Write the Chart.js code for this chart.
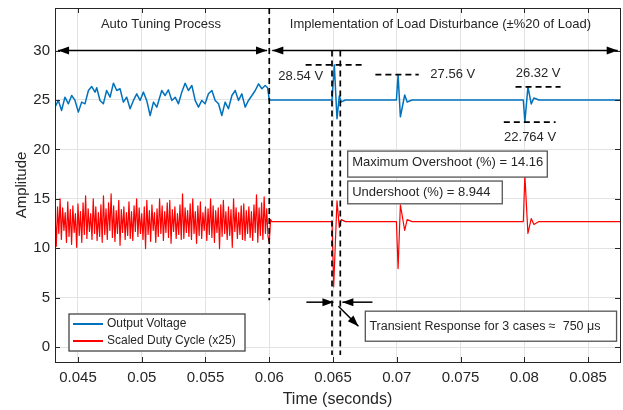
<!DOCTYPE html>
<html>
<head>
<meta charset="utf-8">
<script src="https://cdn.jsdelivr.net/npm/chart.js@4.4.1/dist/chart.umd.min.js"></script>
<style>
  html, body { margin: 0; padding: 0; background: #fff; }
</style>
</head>
<body>
<canvas id="chart" width="623" height="410"></canvas>
<script>
// Output voltage during auto tuning [time (s), volts]
const voltageAutoTuning = [
  [0.04320,24.27],[0.04346,24.95],[0.04372,23.94],[0.04398,25.28],[0.04425,24.61],[0.04451,25.45],[0.04477,24.95],[0.04503,23.77],[0.04529,24.78],[0.04555,24.61],
  [0.04582,25.96],[0.04608,26.36],[0.04634,25.79],[0.04647,26.23],[0.04673,24.95],[0.04699,24.61],[0.04725,25.96],[0.04752,25.28],[0.04778,26.70],[0.04804,25.96],
  [0.04830,26.13],[0.04856,24.78],[0.04882,25.28],[0.04909,24.11],[0.04935,24.95],[0.04961,25.62],[0.04987,24.95],[0.05013,25.79],[0.05039,24.95],[0.05066,23.43],
  [0.05092,24.78],[0.05118,24.27],[0.05157,25.96],[0.05183,25.45],[0.05209,26.02],[0.05236,24.95],[0.05262,25.28],[0.05288,24.61],[0.05314,25.79],[0.05340,26.70],
  [0.05366,25.96],[0.05393,26.46],[0.05419,24.95],[0.05445,24.27],[0.05471,24.95],[0.05497,24.61],[0.05523,25.62],[0.05550,25.96],[0.05576,24.95],[0.05602,24.61],
  [0.05628,23.43],[0.05654,24.78],[0.05680,24.11],[0.05707,25.45],[0.05733,25.96],[0.05759,24.95],[0.05785,25.62],[0.05811,24.27],[0.05837,24.95],[0.05864,25.45],
  [0.05890,25.96],[0.05916,26.63],[0.05942,26.13],[0.05968,26.46],[0.05987,26.23]
];

// Output voltage with load disturbances
const voltageLoadSteps = [
  [0.06000,25.0],[0.06492,25.0],[0.06510,28.54],[0.06531,23.1],[0.06549,25.4],[0.06565,24.8],[0.06597,25.0],
  [0.06997,25.0],[0.07010,27.56],[0.07028,23.3],[0.07062,25.5],[0.07081,24.8],[0.07120,25.0],
  [0.07992,25.0],[0.08004,22.764],[0.08028,26.32],[0.08054,24.6],[0.08075,25.2],[0.08114,25.0],[0.0876,25.0]
];

// Scaled duty cycle (x25) during auto tuning
const dutyAutoTuning = [
  [0.0432,13.8],[0.0433,10.2],[0.0434,14.2],[0.0435,11.5],[0.0436,15.0],[0.0437,10.9],[0.0438,14.1],[0.0439,11.8],[0.0440,13.6],[0.0441,10.6],
  [0.0442,14.7],[0.0443,11.2],[0.0444,13.9],[0.0445,10.4],[0.0446,14.3],[0.0447,11.6],[0.0448,13.5],[0.0449,10.1],[0.0450,14.5],[0.0451,11.3],
  [0.0452,13.7],[0.0453,10.6],[0.0454,14.6],[0.0455,11.4],[0.0456,15.3],[0.0457,11.0],[0.0458,14.0],[0.0459,11.7],[0.0460,13.5],[0.0461,10.9],
  [0.0462,15.0],[0.0463,11.5],[0.0464,14.2],[0.0465,10.8],[0.0466,13.6],[0.0467,11.2],[0.0468,14.4],[0.0469,10.6],[0.0470,15.3],[0.0471,11.4],
  [0.0472,14.0],[0.0473,10.9],[0.0474,14.6],[0.0475,11.8],[0.0476,15.5],[0.0477,11.1],[0.0478,14.3],[0.0479,10.7],[0.0480,13.8],[0.0481,11.5],
  [0.0482,14.85],[0.0483,10.3],[0.0484,13.9],[0.0485,11.6],[0.0486,14.2],[0.0487,10.9],[0.0488,13.6],[0.0489,11.3],[0.0490,14.7],[0.0491,11.0],
  [0.0492,13.7],[0.0493,10.8],[0.0494,14.3],[0.0495,11.7],[0.0496,15.0],[0.0497,11.2],[0.0498,14.1],[0.0499,11.5],[0.0500,13.5],[0.0501,10.9],
  [0.0502,14.2],[0.0503,9.97],[0.0504,14.85],[0.0505,11.4],[0.0506,13.8],[0.0507,10.7],[0.0508,14.4],[0.0509,11.8],[0.0510,13.6],[0.0511,10.6],
  [0.0512,14.0],[0.0513,11.2],[0.0514,15.0],[0.0515,11.5],[0.0516,14.3],[0.0517,10.8],[0.0518,13.7],[0.0519,11.6],[0.0520,14.6],[0.0521,11.1],
  [0.0522,14.85],[0.0523,10.5],[0.0524,13.9],[0.0525,11.7],[0.0526,14.2],[0.0527,11.0],[0.0528,13.5],[0.0529,11.4],[0.0530,14.4],[0.0531,10.9],
  [0.0532,15.5],[0.0533,11.0],[0.0534,14.1],[0.0535,11.6],[0.0536,13.8],[0.0537,11.2],[0.0538,14.5],[0.0539,10.9],[0.0540,15.0],[0.0541,11.5],
  [0.0542,13.7],[0.0543,10.5],[0.0544,14.3],[0.0545,11.3],[0.0546,14.7],[0.0547,11.0],[0.0548,13.6],[0.0549,11.8],[0.0550,14.2],[0.0551,10.8],
  [0.0552,14.0],[0.0553,11.4],[0.0554,15.0],[0.0555,11.1],[0.0556,14.3],[0.0557,10.6],[0.0558,13.8],[0.0559,11.6],[0.0560,14.1],[0.0561,9.97],
  [0.0562,14.4],[0.0563,11.2],[0.0564,14.85],[0.0565,11.5],[0.0566,13.7],[0.0567,10.9],[0.0568,14.2],[0.0569,11.3],[0.0570,13.9],[0.0571,10.1],
  [0.0572,15.0],[0.0573,11.7],[0.0574,14.1],[0.0575,11.0],[0.0576,13.6],[0.0577,11.4],[0.0578,14.3],[0.0579,10.9],[0.0580,14.5],[0.0581,10.8],
  [0.0582,13.8],[0.0583,11.5],[0.0584,14.2],[0.0585,11.1],[0.0586,13.7],[0.0587,10.8],[0.0588,14.4],[0.0589,11.6],[0.0590,15.4],[0.0591,10.6],
  [0.0592,14.1],[0.0593,11.3],[0.0594,14.6],[0.0595,10.9],[0.0596,15.2],[0.0597,11.5],[0.0598,14.0],[0.0599,11.2]
];

// Scaled duty cycle with load disturbances
const dutyLoadSteps = [
  [0.0600,10.6],[0.0601,12.9],[0.0602,12.7],
  [0.06492,12.7],[0.06505,6.1],[0.06531,14.8],[0.06549,12.1],[0.06565,12.9],[0.06597,12.7],
  [0.06997,12.7],[0.07010,7.95],[0.07028,14.4],[0.07062,11.8],[0.07081,12.9],[0.07120,12.7],
  [0.07992,12.7],[0.08004,17.4],[0.08028,11.5],[0.08054,13.0],[0.08075,12.4],[0.08114,12.7],[0.0876,12.7]
];

const seriesNames = ['Output Voltage', 'Scaled Duty Cycle (x25)'];
const seriesColors = ['#0072BD', '#FF0000'];
const xRange = [0.0432, 0.0875];
const yRange = [-1.5, 34.3];

const FONT = '"Liberation Sans", Arial, sans-serif';
const INK = '#262626';

const toPoints = arr => arr.map(p => ({ x: p[0], y: p[1] }));

// arrowhead at (x2,y2) pointing away from (x1,y1)
function arrowHead(ctx, x1, y1, x2, y2) {
    const a = Math.atan2(y2 - y1, x2 - x1);
    const len = 11, half = 4;
    ctx.beginPath();
    ctx.moveTo(x2, y2);
    ctx.lineTo(x2 - len * Math.cos(a) + half * Math.sin(a), y2 - len * Math.sin(a) - half * Math.cos(a));
    ctx.lineTo(x2 - len * Math.cos(a) - half * Math.sin(a), y2 - len * Math.sin(a) + half * Math.cos(a));
    ctx.closePath();
    ctx.fill();
}

function arrow(ctx, x1, y1, x2, y2, both) {
    ctx.beginPath();
    ctx.moveTo(x1, y1);
    ctx.lineTo(x2, y2);
    ctx.stroke();
    arrowHead(ctx, x1, y1, x2, y2);
    if (both) arrowHead(ctx, x2, y2, x1, y1);
}

function dashed(ctx, x1, y1, x2, y2) {
    ctx.save();
    ctx.setLineDash([6, 4]);
    ctx.lineWidth = 1.7;
    ctx.strokeStyle = '#000';
    ctx.beginPath();
    ctx.moveTo(x1, y1);
    ctx.lineTo(x2, y2);
    ctx.stroke();
    ctx.restore();
}

function textBox(ctx, x1, y1, x2, y2, text, tx, ty) {
    ctx.fillStyle = '#fff';
    ctx.fillRect(x1, y1, x2 - x1, y2 - y1);
    ctx.strokeStyle = '#555';
    ctx.lineWidth = 1.3;
    ctx.strokeRect(x1, y1, x2 - x1, y2 - y1);
    ctx.fillStyle = INK;
    ctx.textAlign = 'left';
    ctx.textBaseline = 'middle';
    ctx.fillText(text, tx, ty);
}

const annotationPlugin = {
    id: 'annotations',
    afterDatasetsDraw(chart) {
        const ctx = chart.ctx;
        const xs = chart.scales.x, ys = chart.scales.y;
        const X = v => xs.getPixelForValue(v);
        const Y = v => ys.getPixelForValue(v);
        const a = chart.chartArea;
        ctx.save();

        // inward tick marks and frame
        ctx.strokeStyle = INK;
        ctx.lineWidth = 1;
        ctx.beginPath();
        xs.ticks.forEach(t => {
            const px = Math.round(X(t.value)) + 0.5;
            ctx.moveTo(px, a.bottom); ctx.lineTo(px, a.bottom - 5);
            ctx.moveTo(px, a.top); ctx.lineTo(px, a.top + 5);
        });
        ys.ticks.forEach(t => {
            const py = Math.round(Y(t.value)) + 0.5;
            ctx.moveTo(a.left, py); ctx.lineTo(a.left + 5, py);
            ctx.moveTo(a.right, py); ctx.lineTo(a.right - 5, py);
        });
        ctx.stroke();
        ctx.strokeRect(Math.round(a.left) + 0.5, Math.round(a.top) + 0.5, Math.round(a.right - a.left), Math.round(a.bottom - a.top));

        // section titles
        ctx.font = '13px ' + FONT;
        ctx.fillStyle = INK;
        ctx.textAlign = 'center';
        ctx.textBaseline = 'middle';
        ctx.fillText('Auto Tuning Process', X(0.05151), Y(32.6));
        ctx.fillText('Implementation of Load Disturbance (\u00B1%20 of Load)', X(0.07342), Y(32.6));

        // section arrows
        ctx.strokeStyle = '#000';
        ctx.fillStyle = '#000';
        ctx.lineWidth = 1.5;
        arrow(ctx, X(0.04344), Y(30), X(0.05982), Y(30), true);
        arrow(ctx, X(0.06024), Y(30), X(0.08732), Y(30), true);

        // vertical dashed markers
        dashed(ctx, X(0.06), Y(34.3), X(0.06), Y(4.75));
        dashed(ctx, X(0.06492), Y(30), X(0.06492), Y(-0.8));
        dashed(ctx, X(0.06557), Y(30), X(0.06557), Y(-0.8));

        // peak level markers
        dashed(ctx, X(0.06285), Y(28.54), X(0.06733), Y(28.54));
        dashed(ctx, X(0.06832), Y(27.56), X(0.07172), Y(27.56));
        dashed(ctx, X(0.07931), Y(26.32), X(0.08284), Y(26.32));
        dashed(ctx, X(0.07839), Y(22.764), X(0.08245), Y(22.764));

        ctx.font = '13px ' + FONT;
        ctx.fillStyle = INK;
        ctx.textAlign = 'left';
        ctx.textBaseline = 'middle';
        ctx.fillText('28.54 V', X(0.06071), Y(27.37));
        ctx.fillText('27.56 V', X(0.07263), Y(27.55));
        ctx.fillText('26.32 V', X(0.07932), Y(27.7));
        ctx.fillText('22.764 V', X(0.07841), Y(21.2));

        // result boxes
        textBox(ctx, X(0.06615), Y(19.83), X(0.08180), Y(17.2), 'Maximum Overshoot (%) = 14.16', X(0.06650), Y(18.66));
        textBox(ctx, X(0.06615), Y(16.8), X(0.07827), Y(14.5), 'Undershoot (%) = 8.944', X(0.06650), Y(15.63));

        // transient response arrows
        ctx.strokeStyle = '#000';
        ctx.fillStyle = '#000';
        ctx.lineWidth = 1.5;
        arrow(ctx, X(0.06291), Y(4.55), X(0.06503), Y(4.55), false);
        arrow(ctx, X(0.06809), Y(4.55), X(0.06573), Y(4.55), false);
        arrow(ctx, X(0.06542), Y(4.14), X(0.06699), Y(2.12), false);

        ctx.font = '12.5px ' + FONT;
        textBox(ctx, X(0.06753), Y(3.64), X(0.08723), Y(0.6), 'Transient Response for 3 cases \u2248  750 \u03BCs', X(0.06785), Y(2.12));

        // legend
        const lx = a.left + 14, ly = a.bottom - 48;
        ctx.fillStyle = '#fff';
        ctx.fillRect(lx, ly, 176, 37);
        ctx.strokeStyle = '#444';
        ctx.lineWidth = 1.3;
        ctx.strokeRect(lx, ly, 176, 37);
        ctx.font = '12px ' + FONT;
        ctx.textAlign = 'left';
        ctx.textBaseline = 'middle';
        seriesNames.forEach((name, i) => {
            const ry = ly + 10 + i * 17;
            ctx.strokeStyle = seriesColors[i];
            ctx.lineWidth = 2;
            ctx.beginPath();
            ctx.moveTo(lx + 4, ry);
            ctx.lineTo(lx + 34, ry);
            ctx.stroke();
            ctx.fillStyle = INK;
            ctx.fillText(name, lx + 38, ry);
        });

        ctx.restore();
    }
};

const ctx = document.getElementById('chart').getContext('2d');
new Chart(ctx, {
    type: 'line',
    data: {
        datasets: [
            {
                label: seriesNames[0],
                data: toPoints(voltageAutoTuning.concat(voltageLoadSteps)),
                borderColor: seriesColors[0],
                borderWidth: 1.5
            },
            {
                label: seriesNames[1],
                data: toPoints(dutyAutoTuning.concat(dutyLoadSteps)),
                borderColor: seriesColors[1],
                borderWidth: 1.2
            }
        ]
    },
    options: {
        responsive: false,
        animation: false,
        events: [],
        layout: { padding: { top: 8, right: 3, left: 0, bottom: 0 } },
        elements: {
            point: { radius: 0 },
            line: { tension: 0, fill: false, borderJoinStyle: 'round' }
        },
        plugins: {
            legend: { display: false },
            tooltip: { enabled: false }
        },
        scales: {
            x: {
                type: 'linear',
                min: xRange[0],
                max: xRange[1],
                afterFit: scale => { scale.height = 48; scale.paddingLeft = 0; scale.paddingRight = 0; },
                grid: { color: '#e3e3e3', drawTicks: false },
                border: { display: false },
                ticks: {
                    stepSize: 0.005,
                    includeBounds: false,
                    padding: 7,
                    color: INK,
                    font: { family: FONT, size: 15 },
                    callback: v => String(Number(v.toFixed(3)))
                },
                title: {
                    display: true,
                    text: 'Time (seconds)',
                    color: INK,
                    font: { family: FONT, size: 16 },
                    padding: { top: 0, bottom: 1 }
                }
            },
            y: {
                min: yRange[0],
                max: yRange[1],
                afterFit: scale => { scale.width = 55; scale.paddingTop = 0; scale.paddingBottom = 0; },
                grid: { color: '#e3e3e3', drawTicks: false },
                border: { display: false },
                ticks: {
                    stepSize: 5,
                    includeBounds: false,
                    padding: 5,
                    color: INK,
                    font: { family: FONT, size: 15 }
                },
                title: {
                    display: true,
                    text: 'Amplitude',
                    color: INK,
                    font: { family: FONT, size: 15 },
                    padding: { top: 13, bottom: 0 }
                }
            }
        }
    },
    plugins: [annotationPlugin]
});
</script>
</body>
</html>
